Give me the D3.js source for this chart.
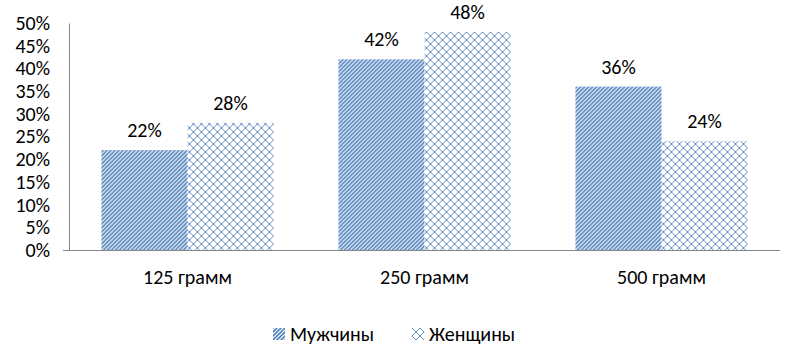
<!DOCTYPE html>
<html>
<head>
<meta charset="utf-8">
<script src="https://cdn.jsdelivr.net/npm/d3@7"></script>
<style>
  body { margin: 0; background: #fff; }
  text { font-family: Carlito, "Open Sans", "Liberation Sans", sans-serif; fill: #000; }
</style>
</head>
<body>
<div id="chart-container"></div>
<script>
// Chart data
const categories = ["125 грамм", "250 грамм", "500 грамм"];
const seriesNames = ["Мужчины", "Женщины"];
const menValues = [22, 42, 36];
const womenValues = [28, 48, 24];
const yTicks = [0, 5, 10, 15, 20, 25, 30, 35, 40, 45, 50];

const width = 802, height = 353;
const blue = "#4f81bd";
const fontSize = "20px";

const svg = d3.select("#chart-container")
  .append("svg")
  .attr("width", width)
  .attr("height", height);

// Hatch patterns
const defs = svg.append("defs");
const pDiag = defs.append("pattern")
  .attr("id", "diag")
  .attr("patternUnits", "userSpaceOnUse")
  .attr("width", 4).attr("height", 4);
pDiag.append("rect").attr("width", 4).attr("height", 4).attr("fill", "#fff");
pDiag.append("path")
  .attr("d", "M-1,1 l2,-2 M0,4 l4,-4 M3,5 l2,-2")
  .attr("stroke", blue).attr("stroke-width", 1.6);

const pCross = defs.append("pattern")
  .attr("id", "cross")
  .attr("patternUnits", "userSpaceOnUse")
  .attr("width", 8).attr("height", 8);
pCross.append("rect").attr("width", 8).attr("height", 8).attr("fill", "#fff");
pCross.append("path")
  .attr("d", "M0,0 L8,8 M8,0 L0,8")
  .attr("stroke", blue).attr("stroke-width", 0.9);

const fills = ["url(#diag)", "url(#cross)"];

const x0 = d3.scaleBand()
  .domain(categories)
  .range([69, 780])
  .paddingInner(0.274)
  .paddingOuter(0.137);

const x1 = d3.scaleBand()
  .domain(seriesNames)
  .range([0, x0.bandwidth()]);

const y = d3.scaleLinear()
  .domain([0, 50])
  .range([250, 23]);

const rows = categories.map((c, i) => ({
  category: c,
  values: [
    { series: seriesNames[0], value: menValues[i] },
    { series: seriesNames[1], value: womenValues[i] }
  ]
}));

const groups = svg.selectAll(".bar-group")
  .data(rows)
  .enter()
  .append("g")
  .attr("class", "bar-group")
  .attr("transform", d => `translate(${x0(d.category)},0)`);

groups.selectAll("rect")
  .data(d => d.values)
  .enter()
  .append("rect")
  .attr("x", d => x1(d.series))
  .attr("y", d => y(d.value))
  .attr("width", x1.bandwidth())
  .attr("height", d => y(0) - y(d.value))
  .attr("fill", (d, i) => fills[i]);

groups.selectAll(".bar-label")
  .data(d => d.values)
  .enter()
  .append("text")
  .attr("class", "bar-label")
  .attr("x", d => x1(d.series) + x1.bandwidth() / 2)
  .attr("y", d => y(d.value) - 13)
  .attr("text-anchor", "middle")
  .attr("font-size", fontSize)
  .text(d => d.value + "%");

// Axes
const yAxis = d3.axisLeft(y)
  .tickValues(yTicks)
  .tickSize(0)
  .tickPadding(19)
  .tickFormat(d => d + "%");

const gy = svg.append("g")
  .attr("transform", "translate(69,0)")
  .call(yAxis);
gy.select(".domain").attr("stroke", "#868686");
gy.selectAll("text")
  .attr("font-size", fontSize)
  .attr("font-family", "Carlito, 'Open Sans', 'Liberation Sans', sans-serif")
  .attr("fill", "#000");

const xAxis = d3.axisBottom(x0)
  .tickSize(0)
  .tickPadding(20);

const gx = svg.append("g")
  .attr("transform", "translate(0,250)")
  .call(xAxis);
gx.select(".domain").attr("stroke", "#868686").attr("d", "M63,0.5H780");
gx.selectAll("text")
  .attr("font-size", fontSize)
  .attr("font-family", "Carlito, 'Open Sans', 'Liberation Sans', sans-serif")
  .attr("fill", "#000");

// Legend
const legendX = [273, 412];
const legend = svg.selectAll(".legend")
  .data(seriesNames)
  .enter()
  .append("g")
  .attr("class", "legend")
  .attr("transform", (d, i) => `translate(${legendX[i]},328)`);

legend.append("rect")
  .attr("width", 12).attr("height", 12)
  .attr("fill", (d, i) => fills[i]);

legend.append("text")
  .attr("x", 17)
  .attr("y", 13)
  .attr("font-size", fontSize)
  .text(d => d);
</script>
</body>
</html>
